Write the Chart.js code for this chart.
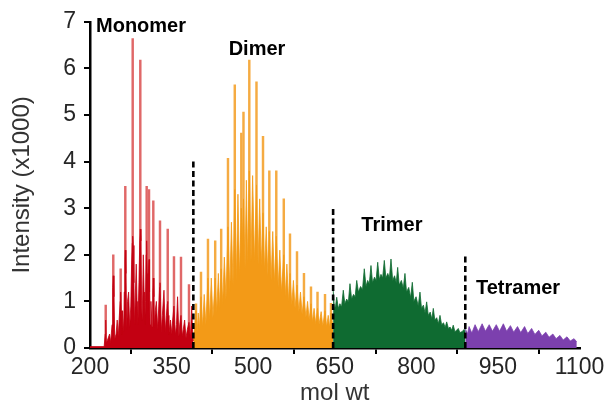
<!DOCTYPE html>
<html><head><meta charset="utf-8">
<script src="https://cdn.jsdelivr.net/npm/chart.js@4"></script>
<style>html,body{margin:0;padding:0;background:#fff}#wrap{width:608px;height:412px;position:relative}</style>
</head><body><div id="wrap"><canvas id="c"></canvas></div>
<script>
// ---- data (mol wt, intensity x1000) ----
const regionNames = ['Monomer', 'Dimer', 'Trimer', 'Tetramer'];
const xTicks = [200, 350, 500, 650, 800, 950, 1100];
const yTicks = [0, 1, 2, 3, 4, 5, 6, 7];

// tall isolated spikes
const monomerMw  = [228.9, 242.8, 256.4, 264.9, 278.5, 292.5, 304.2, 308.5, 316.4, 328.7, 342.9, 354.4, 367.3, 382.0];
const monomerInt = [0.92, 2.0, 1.7, 3.47, 6.64, 6.18, 3.47, 3.4, 3.16, 2.73, 2.55, 1.96, 1.95, 1.36];
// dense lower profile (peaks and valleys)
const monomerEdgeMw  = [200, 226, 228, 228.9, 230, 236, 238, 240.5, 241.8, 242.8, 244, 245.5, 248, 250, 252, 254, 255.5, 256.4, 257.5, 258.5, 260, 262, 263, 264.2, 264.9, 266, 267.5, 269, 271, 273, 275, 276.5, 277.7, 278.5, 279.5, 280.8, 282, 283.5, 285, 286.5, 288, 290, 291.5, 292.5, 293.6, 295, 296, 298, 299.5, 300.5, 302, 303.3, 304.2, 305.3, 306.5, 307.7, 308.5, 309.5, 310.5, 312, 314, 315.5, 316.4, 317.5, 318.5, 320, 322, 324.5, 326.5, 328, 328.7, 329.8, 331, 333, 336, 338.5, 340.5, 342.2, 342.9, 344, 345, 348, 350.5, 352, 354.4, 356, 357, 359, 361, 363.5, 365, 367.3, 369.5, 371.5, 374, 376.5, 379, 382, 384.5, 387, 389, 390];
const monomerEdgeInt = [0.03, 0.03, 0.3, 0.6, 0.1, 0.3, 0.12, 0.5, 1.3, 1.55, 1.1, 0.2, 0.3, 0.6, 0.25, 0.7, 1.0, 1.2, 0.8, 0.3, 0.8, 0.35, 1.2, 1.9, 2.1, 1.6, 0.4, 1.0, 1.2, 0.45, 0.9, 1.8, 2.25, 2.4, 2.2, 1.4, 0.5, 1.2, 1.8, 1.0, 0.5, 1.4, 2.3, 2.55, 2.3, 0.9, 0.6, 2.0, 1.2, 0.5, 1.0, 2.0, 2.3, 1.6, 0.8, 1.7, 1.9, 1.2, 0.5, 1.0, 0.45, 1.2, 1.5, 1.1, 0.45, 0.8, 1.0, 0.4, 0.9, 1.3, 1.4, 1.0, 0.35, 0.7, 1.24, 0.35, 0.7, 0.95, 1.0, 0.7, 0.3, 0.6, 0.3, 0.6, 0.9, 0.5, 0.28, 0.5, 1.1, 0.25, 0.5, 0.7, 0.25, 0.4, 0.6, 0.22, 0.4, 0.55, 0.2, 0.9, 0.2, 0.15];

const dimerMw  = [394.9, 404.1, 416.9, 430.2, 441.2, 453.7, 466.2, 478.2, 482.2, 492.9, 506.1, 518.1, 529.7, 542.5, 556.3, 567.7, 580.6, 593.4, 606.3, 618.3, 632.1, 643.1];
const dimerInt = [0.95, 1.63, 2.34, 2.3, 2.55, 4.07, 5.65, 4.61, 5.06, 6.18, 5.71, 4.54, 3.8, 3.8, 3.2, 2.45, 2.07, 1.6, 1.31, 1.2, 1.15, 0.96];
const dimerEdgeMw  = [390, 394.9, 397, 399, 401, 404.1, 407, 410, 413, 416.9, 420, 423, 426, 430.2, 433, 436, 438.5, 441.2, 444, 447, 450, 453.7, 457, 460, 463, 466.2, 469, 472, 475, 478.2, 480, 482.2, 485, 487.5, 490, 492.9, 496, 499, 502.5, 506.1, 509, 512, 515, 518.1, 521, 524, 527, 529.7, 533, 536, 539, 542.5, 546, 549, 552, 556.3, 559, 562, 565, 567.7, 571, 574, 577, 580.6, 584, 587, 590, 593.4, 597, 600, 603, 606.3, 609, 612, 615, 618.3, 621, 625, 628, 632.1, 635, 638, 640.5, 643.1, 647];
const dimerEdgeInt = [0.15, 0.8, 0.35, 0.75, 0.4, 1.1, 0.45, 1.15, 0.5, 1.5, 0.6, 1.5, 0.65, 1.5, 0.75, 1.6, 0.85, 1.7, 0.95, 1.95, 1.05, 2.6, 1.2, 2.7, 1.35, 3.4, 1.45, 3.3, 1.55, 3.0, 2.2, 3.2, 1.7, 3.6, 1.8, 3.8, 1.85, 3.7, 1.85, 3.5, 1.8, 3.2, 1.75, 2.9, 1.65, 2.6, 1.55, 2.5, 1.45, 2.5, 1.4, 2.4, 1.3, 2.1, 1.2, 2.0, 1.1, 1.8, 1.0, 1.6, 0.92, 1.45, 0.85, 1.35, 0.78, 1.2, 0.72, 1.1, 0.66, 1.0, 0.6, 0.95, 0.56, 0.85, 0.52, 0.85, 0.5, 0.78, 0.47, 0.8, 0.45, 0.7, 0.44, 0.75, 0.42];

const trimerMw  = [647, 649.5, 651.5, 653.6, 656.5, 659.5, 662.5, 665.7, 668.5, 672, 675, 678, 681, 684.5, 687.5, 690.4, 693.5, 697.5, 701, 704.3, 707.5, 710.5, 713.5, 716.6, 719.5, 723, 726, 729, 732, 735, 738, 741.1, 744, 747.5, 750.5, 753.4, 756.5, 760, 763, 765.7, 768.5, 772.5, 776, 779.1, 782, 786, 789.5, 792.6, 795.5, 799.5, 803.5, 806.7, 809.5, 813, 816, 819, 822, 825.5, 828.5, 831.2, 834, 837.5, 840.5, 843.5, 846.5, 850, 853, 855.8, 859, 862, 865, 867.9, 871, 874, 877.1, 880, 884, 888, 890];
const trimerInt = [1.25, 0.85, 0.9, 1.09, 0.85, 0.95, 0.88, 1.24, 0.95, 1.05, 0.98, 1.38, 1.05, 1.15, 1.1, 1.45, 1.2, 1.32, 1.25, 1.7, 1.32, 1.45, 1.38, 1.77, 1.4, 1.52, 1.45, 1.84, 1.47, 1.58, 1.5, 1.88, 1.5, 1.6, 1.5, 1.91, 1.45, 1.55, 1.4, 1.73, 1.35, 1.45, 1.28, 1.6, 1.2, 1.3, 1.08, 1.41, 1.0, 1.1, 0.9, 1.2, 0.85, 0.92, 0.75, 0.99, 0.7, 0.77, 0.62, 0.85, 0.6, 0.65, 0.52, 0.7, 0.5, 0.54, 0.44, 0.56, 0.42, 0.45, 0.38, 0.49, 0.35, 0.38, 0.42, 0.33, 0.35, 0.4, 0.35];

const tetramerMw  = [890, 894, 897, 902, 908, 914, 921, 927, 934, 940, 947, 953, 960, 966, 973, 979, 986, 992, 999, 1005, 1012, 1018, 1025, 1031, 1038, 1044, 1051, 1057, 1064, 1070, 1077, 1083, 1090, 1095];
const tetramerInt = [0.42, 0.3, 0.46, 0.32, 0.5, 0.35, 0.52, 0.36, 0.5, 0.36, 0.5, 0.36, 0.52, 0.36, 0.48, 0.34, 0.46, 0.33, 0.46, 0.31, 0.42, 0.29, 0.38, 0.26, 0.34, 0.23, 0.3, 0.2, 0.27, 0.17, 0.24, 0.15, 0.2, 0.13];

const dividerMw  = [390, 647, 890];
const dividerTop = [4, 3, 2];

// ---- build ----
const pts = (xs, ys) => xs.map((x, i) => ({x: x, y: ys[i]}));
const FONT = "'Liberation Sans', Arial, Helvetica, sans-serif";
Chart.defaults.font.family = FONT;

const datasets = [];
dividerMw.forEach((m, i) => {
  datasets.push({type: 'line', data: [{x: m, y: 0}, {x: m, y: dividerTop[i]}], borderColor: '#000', borderWidth: 2.6,
    borderDash: [6, 3.5], pointRadius: 0, fill: false, order: 0});
});
function lineFill(xs, ys, color, order) {
  return {type: 'line', data: pts(xs, ys), borderColor: color, backgroundColor: color, borderWidth: 0.8,
    pointRadius: 0, fill: 'origin', tension: 0, order: order};
}
function bars(xs, ys, color, w, order) {
  return {type: 'bar', data: pts(xs, ys), backgroundColor: color, borderWidth: 0, barThickness: w,
    grouped: false, order: order};
}
datasets.push(lineFill(monomerEdgeMw, monomerEdgeInt, '#c30012', 1));
datasets.push(bars(monomerMw, monomerInt, '#e06868', 1.8, 3));
datasets.push(lineFill(dimerEdgeMw, dimerEdgeInt, '#f39a17', 1));
datasets.push(bars(dimerMw, dimerInt, '#f5ab42', 1.8, 3));
datasets.push(lineFill(trimerMw, trimerInt, '#0f6b31', 1));
datasets.push(lineFill(tetramerMw, tetramerInt, '#7c40ae', 1));

const labelPlugin = {
  id: 'regionLabels',
  afterDatasetsDraw(chart, args, opts) {
    const {ctx, scales: {x, y}} = chart;
    ctx.save();
    ctx.font = 'bold 20px ' + FONT;
    ctx.fillStyle = '#000';
    ctx.textAlign = 'center';
    ctx.textBaseline = 'middle';
    opts.at.forEach((p, i) => ctx.fillText(regionNames[i], x.getPixelForValue(p[0]), y.getPixelForValue(p[1])));
    ctx.restore();
  }
};

new Chart(document.getElementById('c'), {
  type: 'bar',
  data: {datasets: datasets},
  plugins: [labelPlugin],
  options: {
    responsive: true, maintainAspectRatio: false, animation: false,
    layout: {padding: {top: 20, right: 28.5, left: 0, bottom: 0}},
    plugins: {legend: {display: false}, tooltip: {enabled: false},
      regionLabels: {at: [[293.8, 6.91], [507, 6.4], [755, 2.62], [987, 1.28]]}},
    scales: {
      x: {type: 'linear', min: xTicks[0], max: xTicks[xTicks.length - 1], offset: false,
        afterBuildTicks: s => { s.ticks = xTicks.map(v => ({value: v})); },
        afterFit: s => { s.height = 64; },
        ticks: {padding: 0, color: '#262626', font: {size: 23}, maxRotation: 0, callback: v => String(v)},
        grid: {drawOnChartArea: false, drawTicks: true, tickLength: 6, color: '#000', lineWidth: 2},
        border: {display: true, color: '#000', width: 2.5},
        title: {display: true, text: 'mol wt', color: '#333', font: {size: 24}, padding: {top: 0, bottom: 4.6}}},
      y: {type: 'linear', min: yTicks[0], max: yTicks[yTicks.length - 1],
        afterBuildTicks: s => { s.ticks = yTicks.map(v => ({value: v})); },
        afterFit: s => { s.width = 90; },
        ticks: {padding: 8, color: '#262626', font: {size: 23}, callback: v => String(v)},
        grid: {drawOnChartArea: false, drawTicks: true, tickLength: 6, color: '#000', lineWidth: 2},
        border: {display: true, color: '#000', width: 2.5},
        title: {display: true, text: 'Intensity (x1000)', color: '#333', font: {size: 24}, padding: {top: 7.6, bottom: 0}}}
    }
  }
});
</script>
</body></html>
